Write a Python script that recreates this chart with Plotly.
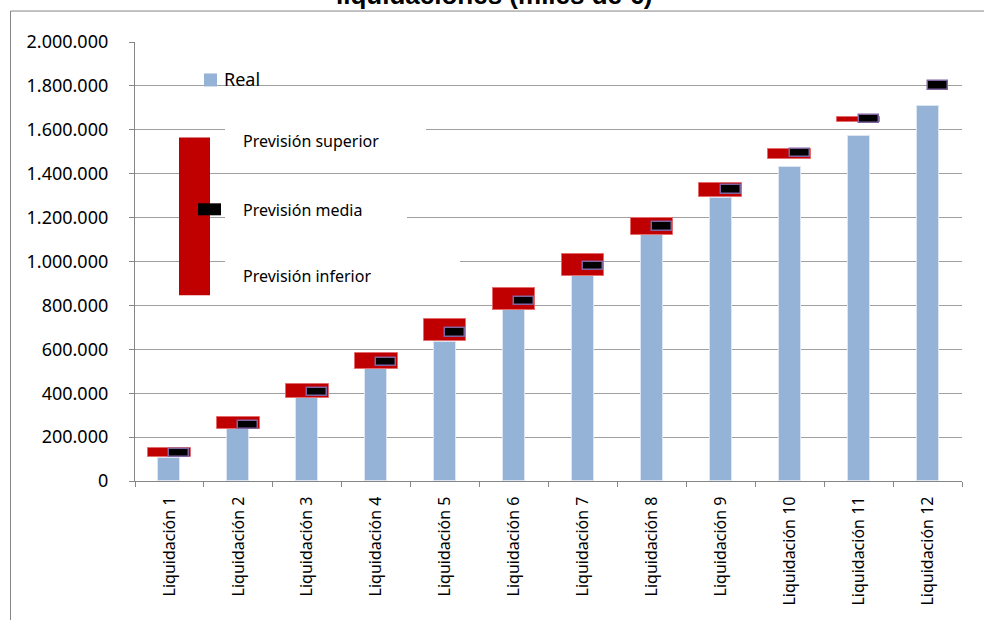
import plotly.graph_objects as go

categories = [f"Liquidación {i}" for i in range(1, 13)]
real = [107000, 235000, 376000, 508000, 635000, 779000, 935000, 1119000, 1290000, 1430000, 1572000, 1708000]
prev_inf = [107800, 235300, 376400, 508300, 635700, 779600, 936000, 1119400, 1293700, 1465400, 1633800, None]
prev_sup = [151500, 292600, 441400, 583900, 735900, 879700, 1034300, 1199900, 1357400, 1510900, 1656500, None]
prev_media = [128300, 256200, 406000, 540700, 677100, 820100, 979700, 1159500, 1327900, 1494000, 1648000, 1802000]
y_ticks = [0, 200000, 400000, 600000, 800000, 1000000, 1200000, 1400000, 1600000, 1800000, 2000000]
y_labels = ["0", "200.000", "400.000", "600.000", "800.000", "1.000.000", "1.200.000",
            "1.400.000", "1.600.000", "1.800.000", "2.000.000"]

MARK_H = 38000

fig = go.Figure()
fig.add_trace(go.Bar(
    x=categories, y=real, name="Real", width=0.32, offset=-0.16,
    marker=dict(color="#95B3D7", line=dict(color="#DCE6F2", width=1)),
))
rng = [None if (s is None or i is None) else s - i for s, i in zip(prev_sup, prev_inf)]
fig.add_trace(go.Bar(
    x=categories, y=rng, base=prev_inf,
    name="Previsión", width=0.62, offset=-0.31,
    marker=dict(color="#C00000", line=dict(color="#E46C6C", width=1)),
))
fig.add_trace(go.Bar(
    x=categories, y=[MARK_H] * len(prev_media), base=[m - MARK_H / 2 for m in prev_media],
    name="Previsión media", width=0.29, offset=0.0,
    marker=dict(color="#000000", line=dict(color="#8064A2", width=1.5)),
))

L, R, T, B = 135, 962, 41.5, 481
W, H = R - L, B - T

def px(x):
    return (x - L) / W

def py(y):
    return (B - y) / H

shapes = []
# chart border
shapes.append(dict(type="rect", xref="paper", yref="paper",
                   x0=px(10.5), x1=px(1100), y0=py(10.5), y1=py(700),
                   line=dict(color="#868686", width=1), fillcolor="rgba(0,0,0,0)", layer="above"))
# white text boxes of the legend
for x1, y0, y1 in [(426, 112, 166), (407, 190, 240), (460, 250, 300)]:
    shapes.append(dict(type="rect", xref="paper", yref="paper",
                       x0=px(225), x1=px(x1), y0=py(y1), y1=py(y0),
                       line=dict(width=0), fillcolor="white", layer="above"))
# legend glyphs
shapes.append(dict(type="rect", xref="paper", yref="paper",
                   x0=px(204), x1=px(217), y0=py(86), y1=py(73),
                   line=dict(width=0), fillcolor="#95B3D7", layer="above"))
shapes.append(dict(type="rect", xref="paper", yref="paper",
                   x0=px(179), x1=px(210), y0=py(295), y1=py(137),
                   line=dict(width=0), fillcolor="#C00000", layer="above"))
shapes.append(dict(type="rect", xref="paper", yref="paper",
                   x0=px(198), x1=px(221), y0=py(215), y1=py(203),
                   line=dict(width=0), fillcolor="#000000", layer="above"))

annotations = [
    dict(text="<b>liquidaciones (miles de €)</b>", xref="paper", yref="paper",
         x=px(494), y=py(-6), xanchor="center", yanchor="middle", showarrow=False,
         font=dict(family="Liberation Sans, Arial", size=26, color="#000")),
    dict(text="Real", xref="paper", yref="paper", x=px(222), y=py(79),
         xanchor="left", yanchor="middle", showarrow=False,
         font=dict(family="Noto Sans", size=18, color="#000")),
]
for txt, yc in [("Previsión superior", 141), ("Previsión media", 210), ("Previsión inferior", 276)]:
    annotations.append(dict(text=txt, xref="paper", yref="paper", x=px(241), y=py(yc),
                            xanchor="left", yanchor="middle", showarrow=False,
                            font=dict(family="Noto Sans", size=16, color="#000")))

fig.update_layout(
    width=984, height=620,
    margin=dict(l=L, r=984 - R, t=T, b=620 - B, autoexpand=False),
    paper_bgcolor="white", plot_bgcolor="white",
    barmode="overlay", bargap=0, showlegend=False,
    font=dict(family="Noto Sans", color="#000"),
    shapes=shapes, annotations=annotations,
)
fig.update_xaxes(
    type="category", tickson="boundaries", ticks="outside", ticklen=5,
    tickcolor="#868686", showline=True, linecolor="#868686", linewidth=1.3,
    tickangle=-90, tickfont=dict(family="Noto Sans", size=16, color="#000"),
    ticklabelstandoff=8, showgrid=False,
)
fig.update_yaxes(
    range=[0, 2000000], tickvals=y_ticks, ticktext=y_labels,
    ticks="outside", ticklen=5, tickcolor="#868686",
    showline=True, linecolor="#868686", linewidth=1.3,
    showgrid=True, gridcolor="#A0A0A0", gridwidth=1.3, zeroline=False,
    tickfont=dict(family="Noto Sans", size=18, color="#000"),
    ticklabelstandoff=17,
)

fig.write_html(
    "out.html",
    config={"displayModeBar": False},
    post_script="document.body.style.margin='0';document.body.style.overflow='hidden';",
)
